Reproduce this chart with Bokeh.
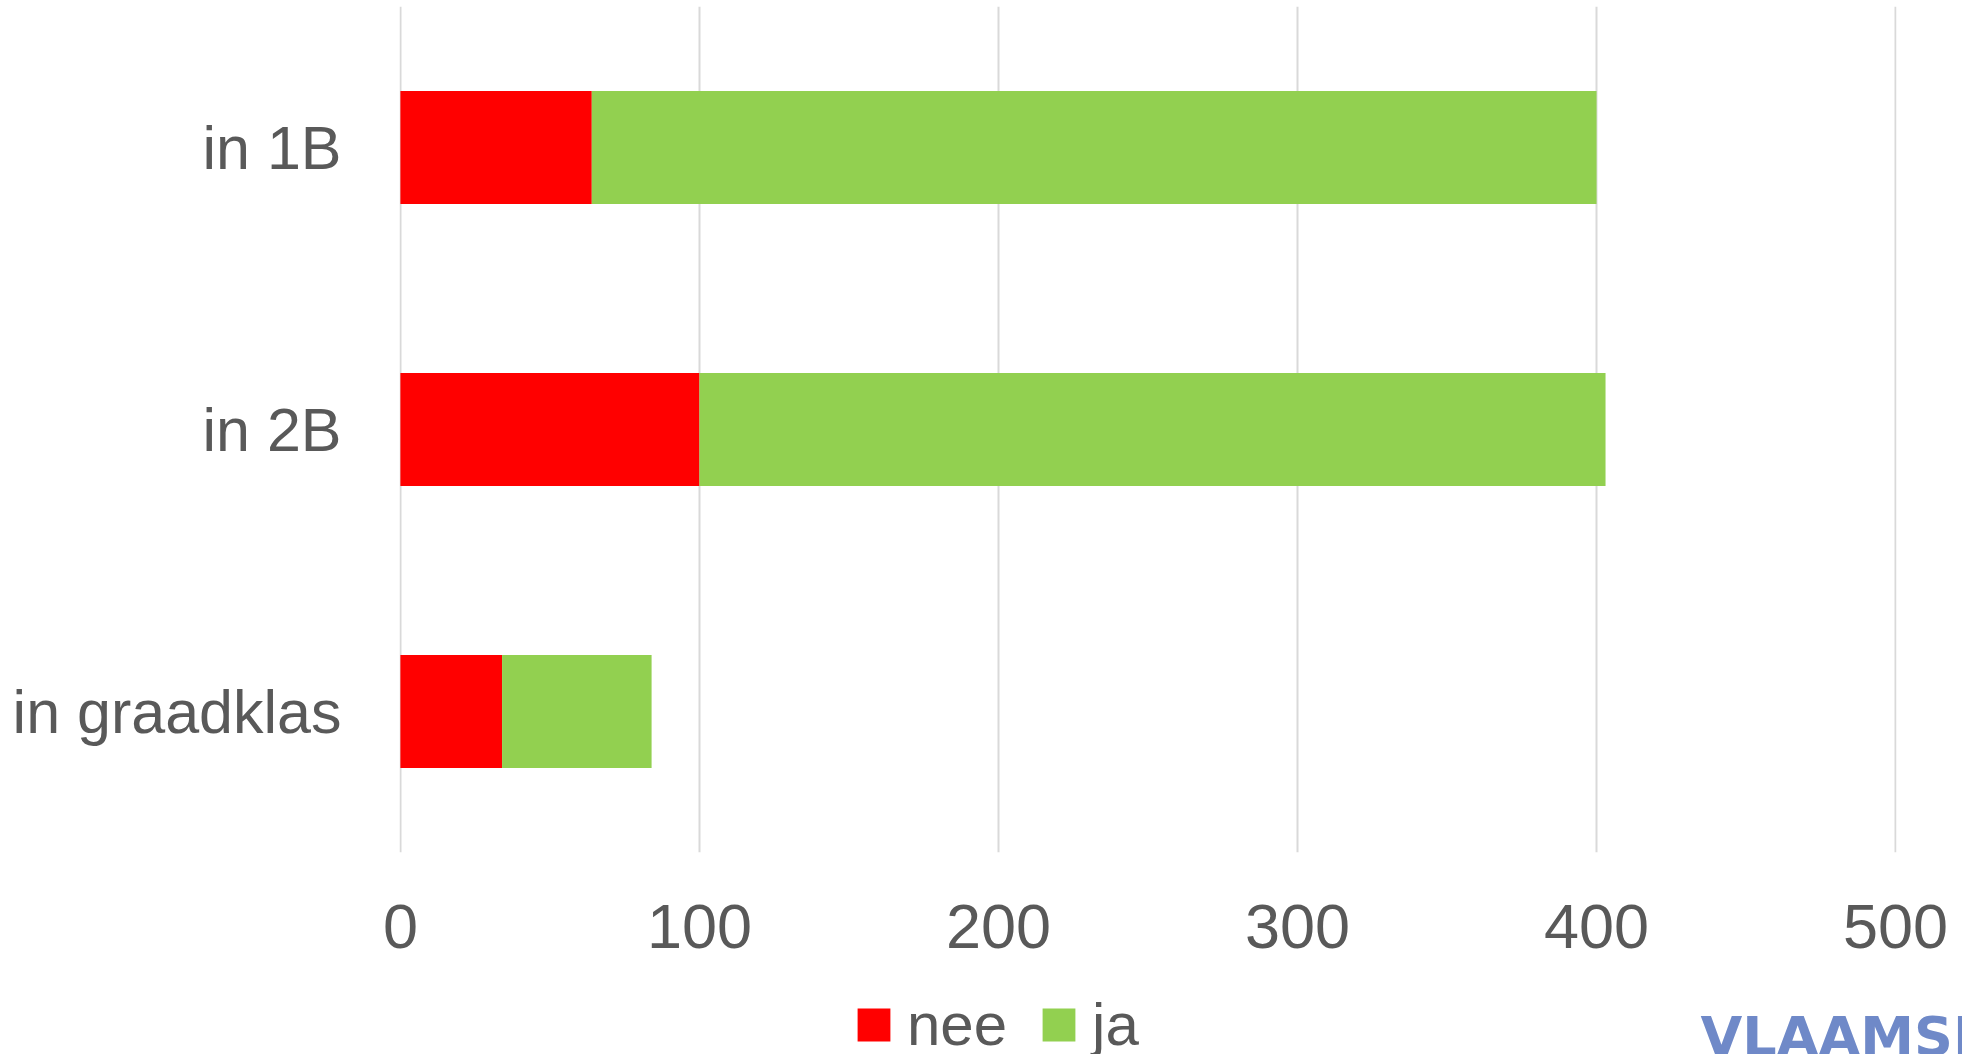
from bokeh.plotting import figure
from bokeh.layouts import column
from bokeh.models import FactorRange, Range1d, Legend, LegendItem, Label, FixedTicker
from bokeh.embed import file_html
from bokeh.resources import INLINE

categories = ["in graadklas", "in 2B", "in 1B"]
nee = [34, 100, 64]
ja = [50, 303, 336]
series = ["nee", "ja"]
colors = ["#FF0000", "#92D050"]
x_ticks = [0, 100, 200, 300, 400, 500]

data = {"cat": categories, "nee": nee, "ja": ja}

# main chart
p = figure(width=1962, height=967, output_backend="svg", toolbar_location=None,
           y_range=FactorRange(factors=categories), x_range=Range1d(-0.3, 500.3),
           min_border_left=399, min_border_right=66, min_border_top=6, min_border_bottom=115)
p.outline_line_color = None
p.frame_align = False

p.hbar_stack(series, y="cat", height=0.4, color=colors, source=data, line_color=None)

p.xaxis.ticker = FixedTicker(ticks=x_ticks)
for ax in (p.xaxis, p.yaxis):
    ax.axis_line_color = None
    ax.major_tick_line_color = None
    ax.minor_tick_line_color = None
    ax.major_label_text_color = "#595959"
    ax.major_label_text_font = "Liberation Sans"
p.xaxis.major_label_text_font_size = "63px"
p.xaxis.major_label_standoff = 46
p.yaxis.major_label_text_font_size = "61px"
p.yaxis.major_label_standoff = 52

p.xgrid.grid_line_color = "#D9D9D9"
p.xgrid.grid_line_width = 2
p.ygrid.grid_line_color = None

# footer strip with legend and logo
f = figure(width=1962, height=87, output_backend="svg", toolbar_location=None,
           y_range=FactorRange(factors=categories), x_range=Range1d(0, 500),
           min_border_left=0, min_border_right=0, min_border_top=0, min_border_bottom=0,
           x_axis_type=None, y_axis_type=None)
f.outline_line_color = None
f.frame_align = False
f.xgrid.visible = False
f.ygrid.visible = False
frs = f.hbar_stack(series, y="cat", height=0.4, color=colors, source=data, line_color=None)
for r in frs:
    r.visible = False

legend = Legend(items=[LegendItem(label=s, renderers=[r]) for s, r in zip(series, frs)],
                orientation="horizontal", location=(853, -5),
                padding=0, margin=0, spacing=31, label_standoff=13,
                glyph_width=41, glyph_height=41, label_height=33,
                label_text_font="Liberation Sans", label_text_font_size="60px",
                label_text_color="#595959", label_text_baseline="alphabetic",
                border_line_color=None, background_fill_alpha=0,
                inactive_fill_alpha=0)
f.add_layout(legend, "center")

logo = Label(x=1700, y=18, x_units="screen", y_units="screen", text="VLAAMSE",
             text_font="DejaVu Sans", text_font_style="bold", text_font_size="54px",
             text_color="#6F89C8", text_baseline="alphabetic")
f.add_layout(logo)

layout = column(p, f, spacing=0)
open("out.html", "w").write(file_html(layout, INLINE))
